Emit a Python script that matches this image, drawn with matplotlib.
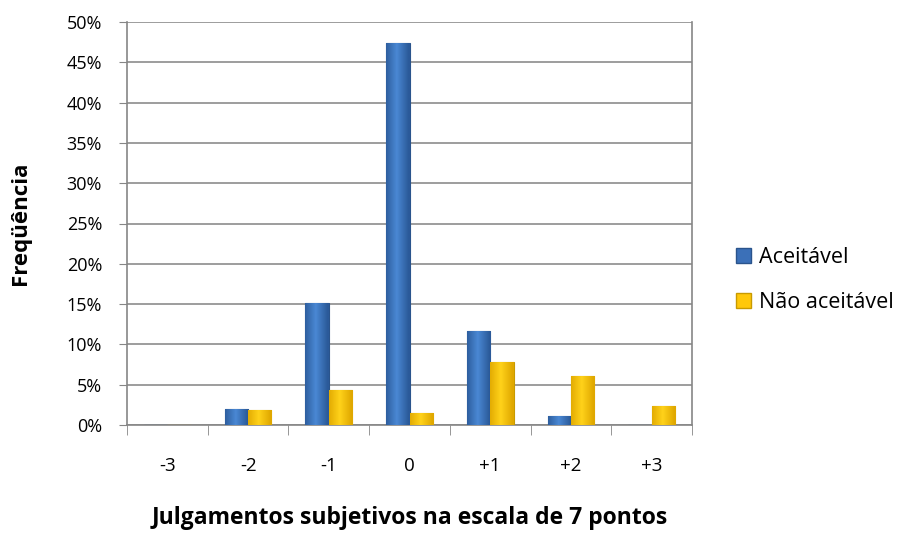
import matplotlib
matplotlib.use("Agg")
import matplotlib.pyplot as plt
import numpy as np
from matplotlib.patches import Patch

categories = ["-3", "-2", "-1", "0", "+1", "+2", "+3"]
aceitavel = [0.0, 2.0, 15.1, 47.4, 11.7, 1.1, 0.0]
nao_aceitavel = [0.0, 1.8, 4.4, 1.45, 7.8, 6.1, 2.4]
yticks = [0, 5, 10, 15, 20, 25, 30, 35, 40, 45, 50]

plt.rcParams['font.family'] = ['Open Sans', 'DejaVu Sans']

fig = plt.figure(figsize=(9.08, 5.36), dpi=100)
ax = fig.add_axes([127/908, 111/536, 565/908, 403/536])

x = np.arange(len(categories))
w = 0.29
blue = "#3B70B8"
blue_edge = "#2A548C"
yellow = "#FFC80A"
yellow_edge = "#C89A00"

b1 = ax.bar(x - w/2, aceitavel, w, color=blue, edgecolor=blue_edge, linewidth=0.8, zorder=3)
b2 = ax.bar(x + w/2, nao_aceitavel, w, color=yellow, edgecolor=yellow_edge, linewidth=0.8, zorder=3)

# subtle horizontal gradient for a 3D look
grad = np.linspace(0, 1, 64)
shade = 1 - np.abs(grad - 0.45) * 2
for bars, cmap_colors in ((b1, ["#2B5A99", "#4A88D4"]), (b2, ["#E0A800", "#FFD21A"])):
    cmap = matplotlib.colors.LinearSegmentedColormap.from_list("g", cmap_colors)
    for r in bars:
        if r.get_height() <= 0:
            continue
        x0, y0 = r.get_x(), r.get_y()
        im = ax.imshow(shade[None, :], cmap=cmap, aspect='auto', zorder=3.5,
                       extent=(x0, x0 + r.get_width(), y0, y0 + r.get_height()),
                       vmin=0, vmax=1)
        im.set_clip_path(r)

ax.set_xlim(-0.5, len(categories) - 0.5)
ax.set_ylim(0, 50)
ax.set_yticks(yticks)
ax.set_yticklabels([f"{v}%" for v in yticks], fontsize=13)
ax.set_xticks(x)
ax.set_xticklabels(categories, fontsize=13.5)
ax.set_xticks(np.arange(-0.5, len(categories) + 0.5, 1), minor=True)
ax.tick_params(axis='x', which='major', length=0, pad=23)
ax.tick_params(axis='x', which='minor', length=7, color="#868686", direction='out')
ax.tick_params(axis='y', length=6, color="#868686", direction='out', pad=12)

ax.grid(axis='y', color="#8C8C8C", linewidth=1.2, zorder=0)
for s in ['left', 'bottom', 'right']:
    ax.spines[s].set_color("#868686")
    ax.spines[s].set_linewidth(1.2)
ax.spines['top'].set_visible(False)

ax.set_ylabel("Freqüência", fontsize=16, fontweight='bold')
ax.yaxis.set_label_coords(-0.170, 0.5)
ax.set_xlabel("Julgamentos subjetivos na escala de 7 pontos", fontsize=16.5, fontweight='bold')
ax.xaxis.set_label_coords(0.5, -0.2)

handles = [Patch(facecolor=blue, edgecolor=blue_edge, label="Aceitável"),
           Patch(facecolor=yellow, edgecolor=yellow_edge, label="Não aceitável")]
fig.legend(handles=handles, loc='center left', bbox_to_anchor=(717/908, 1 - 280/536),
           frameon=False, fontsize=15.5, handlelength=0.7, handleheight=0.7,
           handletextpad=0.35, labelspacing=1.1)

fig.savefig("out.png", dpi=100)
